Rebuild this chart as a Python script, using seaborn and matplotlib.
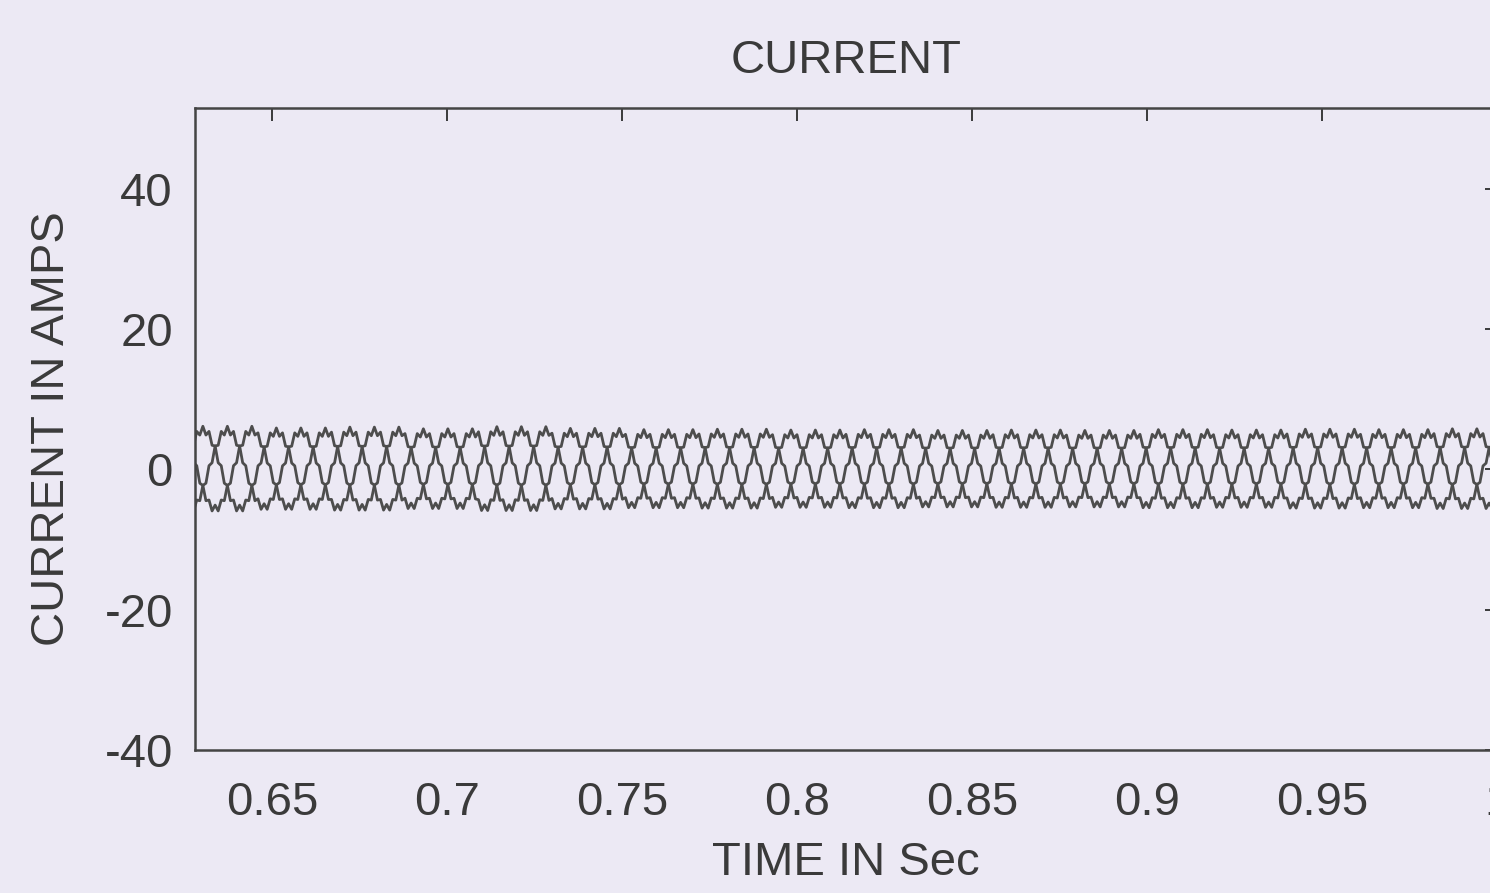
import numpy as np
import pandas as pd
import seaborn as sns
import matplotlib
matplotlib.use("Agg")
import matplotlib.pyplot as plt

# one cycle of each phase, 24 samples (every 15 deg)
phase_a = [0.5, 0.9, 3.2, 3.3, 5.2, 4.7, 5.9, 4.7, 5.2, 3.3, 3.2, 0.9,
           0.5, -1.9, -2.2, -4.3, -4.2, -5.7, -4.9, -5.7, -4.2, -4.3, -2.2, -1.9]
phase_b = [-4.2, -5.7, -4.9, -5.7, -4.2, -4.3, -2.2, -1.9, 0.5, 0.9, 3.2, 3.3,
           5.2, 4.7, 5.9, 4.7, 5.2, 3.3, 3.2, 0.9, 0.5, -1.9, -2.2, -4.3]
phase_c = [5.2, 3.3, 3.2, 0.9, 0.5, -1.9, -2.2, -4.3, -4.2, -5.7, -4.9, -5.7,
           -4.2, -4.3, -2.2, -1.9, 0.5, 0.9, 3.2, 3.3, 5.2, 4.7, 5.9, 4.7]

# relative peak size of each cycle across the window (from 0.625 s)
cycle_scale = [1.04, 1.0, 1.02, 0.98, 1.03, 0.99, 0.96, 0.97, 0.95, 0.96,
               0.94, 0.95, 0.94, 0.96, 0.95, 0.97, 0.96, 0.98, 0.99]
t_start = 0.625
period = 0.021

x_ticks = [0.65, 0.7, 0.75, 0.8, 0.85, 0.9, 0.95, 1.0]
x_tick_labels = ["0.65", "0.7", "0.75", "0.8", "0.85", "0.9", "0.95", "1"]
y_ticks = [-40, -20, 0, 20, 40]

frames = []
for name, cyc in [("a", phase_a), ("b", phase_b), ("c", phase_c)]:
    vals = np.concatenate([s * np.array(cyc) for s in cycle_scale])
    t = t_start + np.arange(len(vals)) * period / len(cyc)
    frames.append(pd.DataFrame({"time": t, "current": vals, "phase": name}))
df = pd.concat(frames, ignore_index=True)

bg = "#ECE9F4"
ink = "#3a3a3a"
sns.set_style("white")
plt.rcParams["font.family"] = ["Liberation Sans", "DejaVu Sans"]
plt.rcParams["axes.unicode_minus"] = False

fig = plt.figure(figsize=(14.9, 8.93), dpi=100, facecolor=bg)
ax = fig.add_axes([195 / 1490, 1 - 750 / 893, (1497 - 195) / 1490, (750 - 108) / 893])
ax.set_facecolor(bg)

sns.lineplot(data=df, x="time", y="current", hue="phase", units="phase",
             estimator=None, palette=["#4d4d4d"] * 3, linewidth=2.0,
             legend=False, ax=ax)

ax.set_xlim(0.628, 1.0)
ax.set_ylim(-40, 51.5)
ax.set_xticks(x_ticks)
ax.set_xticklabels(x_tick_labels)
ax.set_yticks(y_ticks)
ax.tick_params(direction="in", length=9, width=1.4, colors=ink,
               labelsize=34, top=True, right=True)
ax.tick_params(axis="x", pad=22)
ax.tick_params(axis="y", pad=16)
for s in ax.spines.values():
    s.set_color("#444444")
    s.set_linewidth(1.8)

ax.set_title("CURRENT", fontsize=34, color=ink, pad=25)
ax.set_xlabel("TIME IN Sec", fontsize=34, color=ink, labelpad=12)
ax.set_ylabel("CURRENT IN AMPS", fontsize=34, color=ink, labelpad=22)

fig.savefig("out.png", dpi=100, facecolor=bg)
